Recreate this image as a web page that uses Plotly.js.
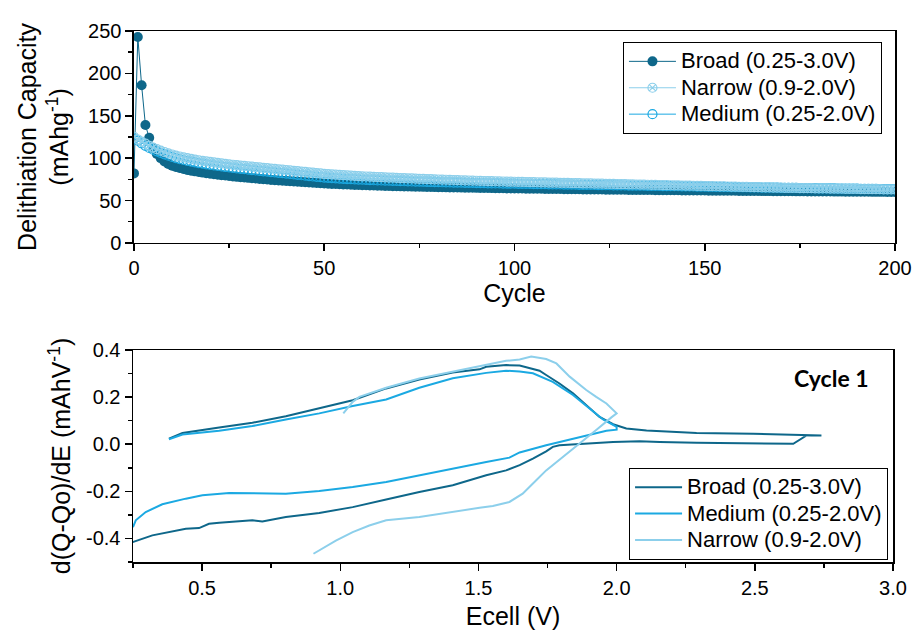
<!DOCTYPE html>
<html>
<head>
<meta charset="utf-8">
<script src="https://cdn.plot.ly/plotly-3.0.1.min.js"></script>
<style>html,body{margin:0;padding:0;background:#fff;}#chart{width:912px;height:634px;}</style>
</head>
<body>
<div id="chart"></div>
<script>
// ---------- Top panel: delithiation capacity vs cycle ----------
const cycles = [0,1,2,3,4,5,6,7,8,9,10,11,12,13,14,15,16,17,18,19,20,21,22,23,24,25,26,27,28,29,30,31,32,33,34,35,36,37,38,39,40,41,42,43,44,45,46,47,48,49,50,51,52,53,54,55,56,57,58,59,60,61,62,63,64,65,66,67,68,69,70,71,72,73,74,75,76,77,78,79,80,81,82,83,84,85,86,87,88,89,90,91,92,93,94,95,96,97,98,99,100,101,102,103,104,105,106,107,108,109,110,111,112,113,114,115,116,117,118,119,120,121,122,123,124,125,126,127,128,129,130,131,132,133,134,135,136,137,138,139,140,141,142,143,144,145,146,147,148,149,150,151,152,153,154,155,156,157,158,159,160,161,162,163,164,165,166,167,168,169,170,171,172,173,174,175,176,177,178,179,180,181,182,183,184,185,186,187,188,189,190,191,192,193,194,195,196,197,198,199,200];

const capBroad = [82,243,186,139,124,112,105,100,96,93,91,
89.6,88.3,87.2,86.1,85.2,84.4,83.6,82.9,82.2,81.5,
80.9,80.4,79.9,79.4,78.9,78.4,77.9,77.5,77.1,76.7,
76.3,75.9,75.5,75.1,74.7,74.3,74.0,73.6,73.3,73.0,
72.7,72.4,72.1,71.8,71.5,71.2,70.9,70.6,70.3,70.0,
69.8,69.6,69.4,69.2,69.0,68.8,68.6,68.4,68.2,68.0,
67.9,67.7,67.6,67.5,67.3,67.2,67.1,66.9,66.8,66.7,
66.6,66.5,66.4,66.3,66.2,66.1,66.0,65.9,65.8,65.7,
65.6,65.5,65.4,65.4,65.3,65.2,65.1,65.0,65.0,64.9,
64.8,64.7,64.7,64.6,64.5,64.5,64.4,64.3,64.3,64.2,
64.1,64.1,64.0,63.9,63.9,63.8,63.8,63.7,63.6,63.6,
63.5,63.5,63.4,63.4,63.3,63.3,63.2,63.1,63.1,63.0,
63.0,62.9,62.9,62.8,62.8,62.7,62.7,62.6,62.6,62.5,
62.5,62.4,62.4,62.4,62.3,62.3,62.2,62.2,62.1,62.1,
62.0,62.0,62.0,61.9,61.9,61.8,61.8,61.8,61.7,61.7,
61.6,61.6,61.6,61.5,61.5,61.4,61.4,61.4,61.3,61.3,
61.3,61.2,61.2,61.2,61.1,61.1,61.1,61.0,61.0,61.0,
60.9,60.9,60.9,60.8,60.8,60.8,60.7,60.7,60.7,60.6,
60.6,60.6,60.6,60.5,60.5,60.5,60.4,60.4,60.4,60.4,
60.3,60.3,60.3,60.2,60.2,60.2,60.2,60.1,60.1,60.1];

const capNarrow = [125,122,119.5,117,114.5,112.5,110.5,108.8,107.2,105.7,104.3,
103.0,101.9,100.9,100.0,99.1,98.3,97.5,96.8,96.1,95.5,
94.9,94.3,93.7,93.2,92.7,92.2,91.7,91.2,90.8,90.4,
89.9,89.5,89.0,88.6,88.1,87.7,87.3,86.8,86.4,86.0,
85.5,85.0,84.6,84.1,83.7,83.2,82.8,82.4,81.9,81.5,
81.2,80.9,80.6,80.3,80.0,79.7,79.4,79.1,78.8,78.5,
78.3,78.1,77.9,77.7,77.5,77.3,77.1,76.9,76.7,76.5,
76.3,76.1,76.0,75.8,75.6,75.4,75.3,75.1,74.9,74.8,
74.6,74.5,74.3,74.2,74.0,73.9,73.7,73.6,73.4,73.3,
73.2,73.0,72.9,72.8,72.7,72.5,72.4,72.3,72.2,72.1,
72.0,71.9,71.8,71.7,71.6,71.5,71.4,71.3,71.2,71.1,
71.0,70.9,70.8,70.7,70.6,70.5,70.4,70.3,70.2,70.1,
70.0,69.9,69.8,69.7,69.6,69.5,69.4,69.3,69.2,69.1,
69.0,68.9,68.8,68.7,68.6,68.5,68.4,68.3,68.2,68.1,
68.0,67.9,67.8,67.7,67.6,67.5,67.4,67.3,67.2,67.1,
67.0,66.9,66.8,66.7,66.6,66.5,66.4,66.3,66.2,66.1,
66.0,65.9,65.8,65.7,65.6,65.5,65.4,65.3,65.2,65.1,
65.0,64.9,64.9,64.8,64.7,64.6,64.5,64.5,64.4,64.3,
64.2,64.2,64.1,64.0,63.9,63.9,63.8,63.7,63.7,63.6,
63.5,63.5,63.4,63.4,63.3,63.3,63.2,63.2,63.1,63.1];

const capMedium = [123,120.5,117.5,114.5,112,110,108,106.2,104.5,102.9,101.4,
100.1,98.9,97.8,96.8,95.9,95.0,94.2,93.4,92.7,92.0,
91.3,90.7,90.1,89.5,89.0,88.4,87.9,87.4,86.9,86.4,
85.9,85.4,84.9,84.4,84.0,83.5,83.1,82.6,82.2,81.8,
81.3,80.8,80.3,79.8,79.3,78.8,78.3,77.9,77.5,77.1,
76.8,76.5,76.2,75.9,75.6,75.3,75.1,74.9,74.7,74.5,
74.3,74.1,73.9,73.7,73.6,73.4,73.3,73.1,73.0,72.8,
72.7,72.6,72.4,72.3,72.2,72.1,71.9,71.8,71.7,71.6,
71.5,71.4,71.3,71.2,71.1,71.0,70.9,70.8,70.7,70.6,
70.5,70.4,70.3,70.3,70.2,70.1,70.0,69.9,69.9,69.8,
69.7,69.6,69.6,69.5,69.4,69.3,69.3,69.2,69.1,69.0,
69.0,68.9,68.8,68.8,68.7,68.6,68.5,68.5,68.4,68.3,
68.3,68.2,68.1,68.0,68.0,67.9,67.8,67.8,67.7,67.6,
67.6,67.5,67.4,67.4,67.3,67.2,67.2,67.1,67.0,67.0,
66.9,66.8,66.8,66.7,66.6,66.6,66.5,66.4,66.4,66.3,
66.2,66.2,66.1,66.0,66.0,65.9,65.8,65.8,65.7,65.6,
65.6,65.5,65.5,65.4,65.3,65.3,65.2,65.1,65.1,65.0,
65.0,64.9,64.8,64.8,64.7,64.7,64.6,64.5,64.5,64.4,
64.4,64.3,64.3,64.2,64.1,64.1,64.0,64.0,63.9,63.9,
63.8,63.8,63.7,63.6,63.6,63.5,63.5,63.4,63.4,63.3];

// ---------- Bottom panel: dQ/dE vs Ecell, cycle 1 ----------
const eBroad = [0.380,0.429,0.562,0.682,0.803,0.924,1.045,1.166,1.286,1.407,1.504,1.528,1.600,1.649,1.697,1.721,1.745,1.793,1.842,1.890,1.938,1.987,2.035,2.108,2.156,2.289,2.494,2.675,2.741,
  2.687,2.639,2.494,2.289,2.156,2.083,1.987,1.866,1.793,1.769,1.745,1.697,1.649,1.600,1.528,1.407,1.286,1.166,1.045,0.924,0.803,0.718,0.682,0.562,0.525,0.489,0.441,0.320,0.247];
const dqBroad = [0.024,0.048,0.071,0.091,0.119,0.152,0.187,0.237,0.275,0.305,0.318,0.329,0.336,0.334,0.318,0.312,0.294,0.258,0.216,0.166,0.116,0.085,0.067,0.058,0.056,0.048,0.045,0.038,0.037,
  0.037,0.002,0.003,0.006,0.010,0.013,0.010,0.003,-0.004,-0.011,-0.030,-0.061,-0.089,-0.111,-0.132,-0.174,-0.203,-0.235,-0.267,-0.292,-0.309,-0.328,-0.323,-0.333,-0.338,-0.356,-0.359,-0.387,-0.416];

const eMedium = [0.380,0.429,0.562,0.682,0.803,0.924,1.045,1.166,1.286,1.407,1.528,1.600,1.649,1.697,1.769,1.842,1.902,1.951,2.000,
  2.000,1.963,1.866,1.745,1.649,1.612,1.528,1.407,1.286,1.166,1.045,0.924,0.803,0.682,0.598,0.501,0.441,0.356,0.296,0.260,0.250];
const dqMedium = [0.021,0.041,0.057,0.077,0.105,0.131,0.162,0.190,0.240,0.280,0.303,0.312,0.309,0.301,0.265,0.209,0.152,0.105,0.074,
  0.062,0.057,0.031,-0.004,-0.035,-0.057,-0.075,-0.104,-0.132,-0.160,-0.182,-0.199,-0.210,-0.207,-0.207,-0.217,-0.231,-0.255,-0.288,-0.323,-0.352];

const eNarrow = [1.011,1.045,1.069,1.166,1.286,1.407,1.504,1.528,1.600,1.649,1.691,1.745,1.782,1.830,1.890,1.926,1.963,2.000,
  1.981,1.926,1.866,1.805,1.745,1.709,1.660,1.612,1.552,1.504,1.407,1.286,1.166,1.105,1.045,0.984,0.903];
const dqNarrow = [0.131,0.180,0.201,0.240,0.279,0.308,0.332,0.340,0.354,0.360,0.372,0.362,0.343,0.287,0.230,0.201,0.173,0.131,
  0.114,0.060,0.003,-0.054,-0.111,-0.153,-0.210,-0.245,-0.262,-0.270,-0.288,-0.309,-0.323,-0.345,-0.373,-0.409,-0.465];

const seriesNames = ['Broad (0.25-3.0V)', 'Narrow (0.9-2.0V)', 'Medium (0.25-2.0V)'];
const bottomYTickVals = [-0.4,-0.2,0.0,0.2,0.4];
const bottomYTickText = ['-0.4','-0.2','0.0','0.2','0.4'];

const cBroad = '#0e678a';
const cMedium = '#1ba9e2';
const cNarrow = '#8ccfeb';
const FONT = '"Liberation Sans", Arial, sans-serif';
const big = s => '<span style="font-size:22px">' + s + '</span>';

const traces = [
  {x: cycles, y: capBroad, xaxis:'x', yaxis:'y', type:'scatter', mode:'lines+markers', name: big(seriesNames[0]),
   legend:'legend', legendrank:1,
   line:{color:cBroad, width:1}, marker:{symbol:'circle', size:10, color:cBroad}},
  {x: cycles, y: capMedium, xaxis:'x', yaxis:'y', type:'scatter', mode:'lines+markers', name: big(seriesNames[2]),
   legend:'legend', legendrank:3,
   line:{color:cMedium, width:1}, marker:{symbol:'circle-open', size:9, color:cMedium, line:{width:1.2}}},
  {x: cycles, y: capNarrow, xaxis:'x', yaxis:'y', type:'scatter', mode:'lines+markers', name: big(seriesNames[1]),
   legend:'legend', legendrank:2,
   line:{color:cNarrow, width:1}, marker:{symbol:'circle-x-open', size:9, color:cNarrow, line:{width:1.2}}},

  {x: eBroad, y: dqBroad, xaxis:'x2', yaxis:'y2', type:'scatter', mode:'lines', name: big(seriesNames[0]),
   legend:'legend2', line:{color:cBroad, width:2}},
  {x: eMedium, y: dqMedium, xaxis:'x2', yaxis:'y2', type:'scatter', mode:'lines', name: big(seriesNames[2]),
   legend:'legend2', line:{color:cMedium, width:2}},
  {x: eNarrow, y: dqNarrow, xaxis:'x2', yaxis:'y2', type:'scatter', mode:'lines', name: big(seriesNames[1]),
   legend:'legend2', line:{color:cNarrow, width:2}}
];

const axisCommon = {
  showline:true, linecolor:'#000', linewidth:1.5, mirror:true,
  ticks:'outside', ticklen:7, tickwidth:1.5, tickcolor:'#000',
  showgrid:false, zeroline:false,
  tickfont:{family:FONT, size:20, color:'#000'}
};

const layout = {
  width:912, height:634,
  margin:{l:133, r:17, t:31, b:72},
  paper_bgcolor:'#fff', plot_bgcolor:'#fff',
  font:{family:FONT, color:'#000'},
  xaxis: Object.assign({}, axisCommon, {
    domain:[0.0013,1], anchor:'y', range:[0,200], tickvals:[0,50,100,150,200],
    minor:{ticks:'outside', ticklen:4, tickwidth:1.5, tickcolor:'#000', dtick:25, tick0:0},
    title:{text:'Cycle', font:{family:FONT, size:25, color:'#000'}, standoff:6}
  }),
  yaxis: Object.assign({}, axisCommon, {
    domain:[0.601,1], anchor:'x', range:[0,250], tickvals:[0,50,100,150,200,250],
    minor:{ticks:'outside', ticklen:4, tickwidth:1.5, tickcolor:'#000', dtick:25, tick0:0},
    title:{text:'Delithiation Capacity<br>(mAhg<sup>-1</sup>)', font:{family:FONT, size:25, color:'#000'}, standoff:12}
  }),
  xaxis2: Object.assign({}, axisCommon, {
    domain:[0,0.9974], anchor:'y2', range:[0.25,3.0], tickvals:[0.5,1.0,1.5,2.0,2.5,3.0], tickformat:'.1f',
    minor:{ticks:'outside', ticklen:4, tickwidth:1.5, tickcolor:'#000', dtick:0.25, tick0:0},
    title:{text:'Ecell (V)', font:{family:FONT, size:25, color:'#000'}, standoff:10}
  }),
  yaxis2: Object.assign({}, axisCommon, {
    domain:[0,0.3992], anchor:'x2', range:[-0.5,0.4], tickvals:bottomYTickVals, ticktext:bottomYTickText,
    minor:{ticks:'outside', ticklen:4, tickwidth:1.5, tickcolor:'#000', dtick:0.1, tick0:0},
    title:{text:'d(Q-Qo)/dE (mAhV<sup>-1</sup>)', font:{family:FONT, size:25, color:'#000'}, standoff:8}
  }),
  legend:{x:0.643, y:0.979, xanchor:'left', yanchor:'top', bgcolor:'#fff', bordercolor:'#000', borderwidth:1,
    font:{family:FONT, size:18, color:'#000'}, traceorder:'normal', tracegroupgap:0, itemwidth:47},
  legend2:{x:0.651, y:0.177, xanchor:'left', yanchor:'top', bgcolor:'#fff', bordercolor:'#000', borderwidth:1,
    font:{family:FONT, size:18, color:'#000'}, traceorder:'normal', tracegroupgap:0, itemwidth:47},
  annotations:[
    {text:'<b>Cycle 1</b>', xref:'paper', yref:'paper', x:0.968, y:0.3465, xanchor:'right', yanchor:'middle',
     showarrow:false, font:{family:'Lato, Carlito, sans-serif', size:23, color:'#000'}}
  ],
  showlegend:true
};

Plotly.newPlot('chart', traces, layout, {displayModeBar:false, staticPlot:true});
</script>
</body>
</html>
